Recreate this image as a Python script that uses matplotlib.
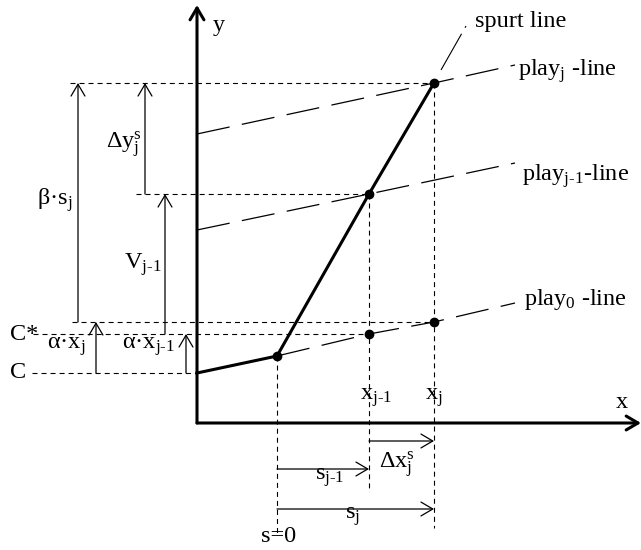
import matplotlib
matplotlib.use("Agg")
import matplotlib.pyplot as plt

plt.rcParams['font.family'] = ['Liberation Serif', 'DejaVu Serif']
plt.rcParams['mathtext.fontset'] = 'custom'
plt.rcParams['mathtext.rm'] = 'Liberation Serif'
plt.rcParams['mathtext.it'] = 'Liberation Serif'
plt.rcParams['mathtext.bf'] = 'Liberation Serif:bold'
plt.rcParams['lines.scale_dashes'] = False

# values (x to the right of the y axis, y above the x axis)
C = 50
C_star = 89
x_s0 = 80
x_jm1 = 172
x_j = 237
y_kink = 67
y_top = 340
y_mid = 229
y_play0_j = 101

play0_x = [x_s0, x_jm1, x_j, 318]
play0_y = [y_kink, C_star, y_play0_j, 120]
playjm1_x = [0, x_jm1, 318]
playjm1_y = [193, y_mid, 260]
playj_x = [0, x_j, 318]
playj_y = [289, y_top, 358]
spurt_x = [0, x_s0, x_jm1, x_j]
spurt_y = [C, y_kink, y_mid, y_top]
dots_x = [x_s0, x_jm1, x_j, x_jm1, x_j]
dots_y = [y_kink, y_mid, y_top, C_star, y_play0_j]

fig = plt.figure(figsize=(6.41, 5.5), dpi=100)
ax = fig.add_axes([0, 0, 1, 1])
ax.set_xlim(-197, 444)
ax.set_ylim(-127, 423)
ax.axis('off')

fs = 17.5
short = (3.6, 2.9)
long_ = (24, 9)


def arrow(tail, tip, lw=0.9):
    ax.annotate('', xy=tip, xytext=tail,
                arrowprops=dict(arrowstyle='->,head_length=0.85,head_width=0.5',
                                lw=lw, color='black', shrinkA=0, shrinkB=0))


# axes
arrow((0, 0), (0, 418), lw=2.2)
arrow((0, 0), (444, 0), lw=2.2)

# play lines
ax.plot(play0_x, play0_y, color='black', lw=0.9, dashes=long_)
ax.plot(playjm1_x, playjm1_y, color='black', lw=0.9, dashes=long_)
ax.plot(playj_x, playj_y, color='black', lw=0.9, dashes=long_)

# spurt line (solid, thick)
ax.plot(spurt_x, spurt_y, color='black', lw=2.2, solid_joinstyle='miter')
ax.plot(dots_x, dots_y, 'o', color='black', ms=6)

# horizontal reference lines
ax.plot([-127, x_j], [y_top, y_top], color='black', lw=0.8, dashes=short)
ax.plot([-61, x_jm1], [y_mid, y_mid], color='black', lw=0.8, dashes=short)
ax.plot([-125, x_j], [y_play0_j, y_play0_j], color='black', lw=0.8, dashes=short)
ax.plot([-164, x_jm1], [C_star, C_star], color='black', lw=0.8, dashes=short)
ax.plot([-165, 0], [C, C], color='black', lw=0.8, dashes=short)

# vertical reference lines
ax.plot([x_s0, x_s0], [y_kink, -110], color='black', lw=0.8, dashes=short)
ax.plot([x_jm1, x_jm1], [y_mid, -69], color='black', lw=0.8, dashes=short)
ax.plot([x_j, x_j], [y_top, -105], color='black', lw=0.8, dashes=short)

# dimension arrows
arrow((-119, y_play0_j), (-119, y_top))
arrow((-52, y_mid), (-52, y_top))
arrow((-32, C_star), (-32, y_mid))
arrow((-101, C), (-101, y_play0_j))
arrow((-11, C), (-11, C_star))
arrow((x_s0, -46), (x_jm1, -46))
arrow((x_jm1, -18), (x_j, -18))
arrow((x_s0, -86), (x_j, -86))

# spurt line pointer
ax.plot([244, 269], [353, 397], color='black', lw=0.8, dashes=(30, 5))

# labels
ax.text(16, 398, 'y', fontsize=fs, va='center', ha='left')
ax.text(425, 20, 'x', fontsize=fs, va='center', ha='center')
ax.text(278, 401, 'spurt line', fontsize=fs, va='center', ha='left')
ax.text(321, 352, r'play$_\mathrm{j}$ -line', fontsize=fs, va='center', ha='left')
ax.text(325, 247, r'play$_{\mathrm{j\text{-}1}}$-line', fontsize=fs, va='center', ha='left')
ax.text(327, 123, r'play$_0$ -line', fontsize=fs, va='center', ha='left')
ax.text(-125, 223, r'β·s$_\mathrm{j}$', fontsize=fs, va='center', ha='right')
ax.text(-55, 278, r'Δy$_\mathrm{j}^\mathrm{s}$', fontsize=fs, va='center', ha='right')
ax.text(-35, 158, r'V$_{\mathrm{j\text{-}1}}$', fontsize=fs, va='center', ha='right')
ax.text(-187, 89, 'C*', fontsize=fs, va='center', ha='left')
ax.text(-187, 50, 'C', fontsize=fs, va='center', ha='left')
ax.text(-150, 76, r'α·x$_\mathrm{j}$', fontsize=fs, va='center', ha='left')
ax.text(-75, 76, r'α·x$_{\mathrm{j\text{-}1}}$', fontsize=fs, va='center', ha='left')
ax.text(163, 25, r'x$_{\mathrm{j\text{-}1}}$', fontsize=fs, va='center', ha='left')
ax.text(228, 25, r'x$_\mathrm{j}$', fontsize=fs, va='center', ha='left')
ax.text(182, -42, r'Δx$_\mathrm{j}^\mathrm{s}$', fontsize=fs, va='center', ha='left')
ax.text(118, -55, r's$_{\mathrm{j\text{-}1}}$', fontsize=fs, va='center', ha='left')
ax.text(148, -94, r's$_\mathrm{j}$', fontsize=fs, va='center', ha='left')
ax.text(82, -114, 's=0', fontsize=fs, va='center', ha='center')

fig.savefig('out.png', dpi=100)
